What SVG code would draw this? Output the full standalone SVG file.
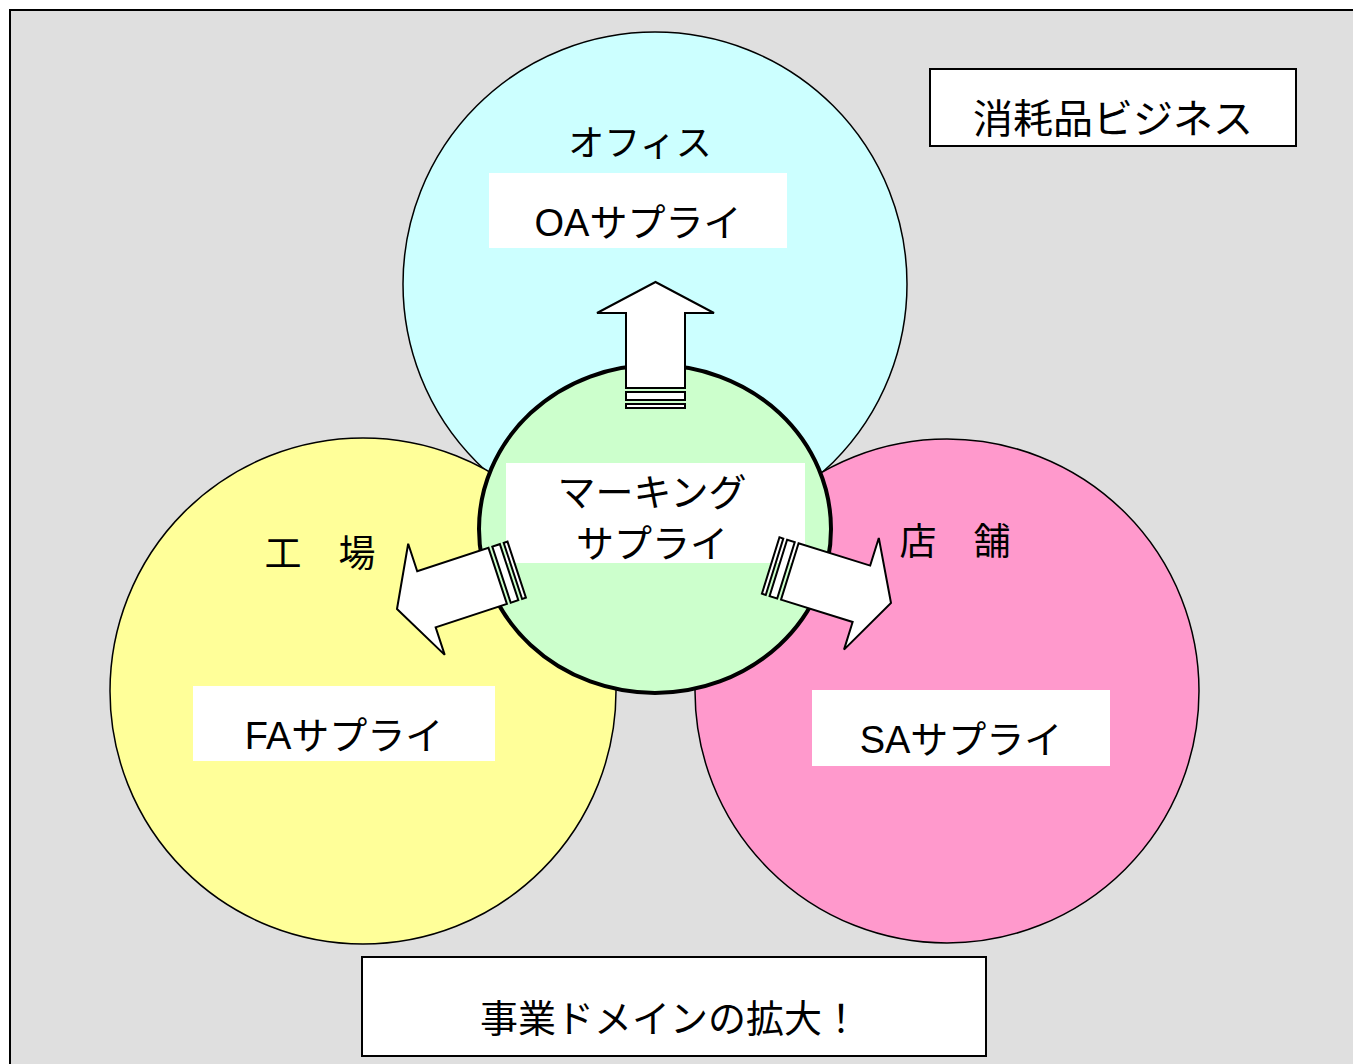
<svg xmlns="http://www.w3.org/2000/svg" width="1353" height="1064" viewBox="0 0 1353 1064">
<defs>
<style>
.t{font-family:"Liberation Sans","Noto Sans CJK JP",sans-serif;fill:#000;text-anchor:middle}
.circ{stroke:#000;stroke-width:1.5}
.lbl{fill:#fff;stroke:none}
.box{fill:#fff;stroke:#000;stroke-width:2}
.arr{fill:#fff;stroke:#000;stroke-width:2;stroke-linejoin:miter}
</style>
<g id="arrowShape">
<polygon class="arr" points="0,0 -31,-58.5 -31,-29.5 -106,-29.5 -106,29.5 -31,29.5 -31,58.5"/>
<rect class="arr" x="-118" y="-29.5" width="8" height="59"/>
<rect class="arr" x="-126" y="-29.5" width="4" height="59"/>
</g>
</defs>
<rect x="0" y="0" width="1353" height="1064" fill="#fff"/>
<rect id="frame" x="10" y="10" width="1360" height="1070" fill="#dfdfdf" stroke="#000" stroke-width="2"/>

<g id="office">
<circle class="circ" cx="655" cy="284" r="252" fill="#ccffff"/>
<text class="t" x="640" y="156" font-size="36">オフィス</text>
<rect class="lbl" x="489" y="173" width="298" height="75"/>
<text class="t" x="638" y="236" font-size="38">OAサプライ</text>
</g>

<g id="factory">
<circle class="circ" cx="363" cy="691" r="253" fill="#ffff99"/>
<text class="t" x="320" y="567" font-size="37">工　場</text>
<rect class="lbl" x="193" y="686" width="302" height="75"/>
<text class="t" x="344" y="749" font-size="38">FAサプライ</text>
</g>

<g id="store">
<circle class="circ" cx="947" cy="691" r="252" fill="#ff99cc"/>
<text class="t" x="955" y="555" font-size="37">店　舗</text>
<rect class="lbl" x="812" y="690" width="298" height="76"/>
<text class="t" x="961" y="753" font-size="38">SAサプライ</text>
</g>

<g id="marking">
<ellipse cx="655" cy="529" rx="176" ry="164" fill="#ccffcc" stroke="#000" stroke-width="4"/>
<rect class="lbl" x="506" y="463" width="299" height="100"/>
<text class="t" x="652" y="506" font-size="38">マーキング</text>
<text class="t" x="652" y="557" font-size="38">サプライ</text>
</g>

<g id="connectors">
<use href="#arrowShape" transform="translate(655.5,282) rotate(-90)"/>
<use href="#arrowShape" transform="translate(397,609) rotate(161.8)"/>
<use href="#arrowShape" transform="translate(891,603) rotate(17.3)"/>
</g>

<g id="consumables">
<rect class="box" x="930" y="69" width="366" height="77"/>
<text class="t" x="1113" y="133" font-size="40">消耗品ビジネス</text>
</g>

<g id="domain">
<rect class="box" x="362" y="957" width="624" height="99"/>
<text class="t" x="670" y="1032" font-size="38">事業ドメインの拡大！</text>
</g>
</svg>
